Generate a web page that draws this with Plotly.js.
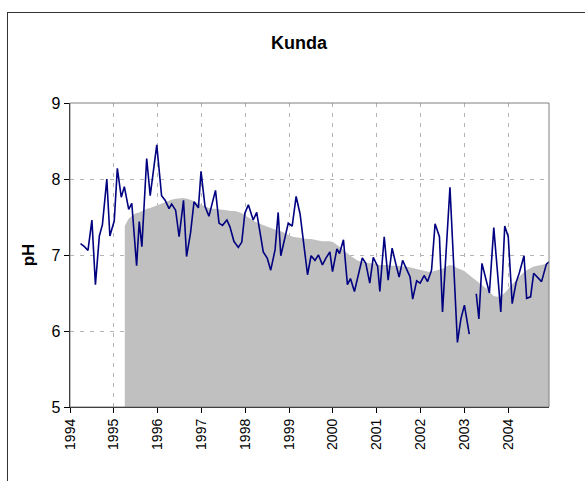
<!DOCTYPE html>
<html>
<head>
<meta charset="utf-8">
<script src="https://cdn.plot.ly/plotly-3.0.1.min.js"></script>
<style>
  html, body { margin: 0; padding: 0; background: #fff; }
  #chart { position: absolute; left: 0; top: 0; width: 585px; height: 481px; }
  #frame { position: absolute; left: 7px; top: 12px; width: 620px; height: 520px;
           border: 1px solid #333; pointer-events: none; box-sizing: border-box; }
</style>
</head>
<body>
<div id="chart"></div>
<div id="frame"></div>
<script>
// ---- data ----
const chartTitle = 'Kunda';
const yTitle = 'pH';
const yearTicks = [1994, 1995, 1996, 1997, 1998, 1999, 2000, 2001, 2002, 2003, 2004];
const yearLabels = ['1994', '1995', '1996', '1997', '1998', '1999', '2000', '2001', '2002', '2003', '2004'];

// measured pH (decimal year, value); null = missing sample
const phYears = [
  1994.24, 1994.33, 1994.41, 1994.50, 1994.58, 1994.67, 1994.74, 1994.84, 1994.91,
  1995.01, 1995.08, 1995.17, 1995.24, 1995.34, 1995.41, 1995.52, 1995.58, 1995.64, 1995.75, 1995.83, 1995.98,
  1996.09, 1996.17, 1996.26, 1996.32, 1996.41, 1996.49, 1996.59, 1996.66, 1996.75, 1996.83, 1996.93, 1996.99,
  1997.08, 1997.17, 1997.32, 1997.40, 1997.48, 1997.58, 1997.65, 1997.74, 1997.84, 1997.92, 1997.99,
  1998.07, 1998.18, 1998.26, 1998.33, 1998.41, 1998.50, 1998.58, 1998.68, 1998.75, 1998.81, 1998.89, 1998.98,
  1999.07, 1999.16, 1999.25, 1999.34, 1999.42, 1999.50, 1999.59, 1999.67, 1999.76, 1999.84, 1999.93, 1999.99,
  2000.09, 2000.15, 2000.24, 2000.33, 2000.40, 2000.49, 2000.58, 2000.67, 2000.75, 2000.84, 2000.92,
  2001.02, 2001.07, 2001.17, 2001.26, 2001.35, 2001.44, 2001.51, 2001.59, 2001.68, 2001.76, 2001.82, 2001.91, 2001.99,
  2002.08, 2002.16, 2002.25, 2002.33, 2002.43, 2002.50, 2002.67, 2002.84, 2002.92,
  2003.00, 2003.11, 2003.19, 2003.27, 2003.33, 2003.40, 2003.57, 2003.67, 2003.83, 2003.92,
  2004.00, 2004.09, 2004.18, 2004.25, 2004.36, 2004.42, 2004.51, 2004.58, 2004.76, 2004.87, 2004.93
];
const phValues = [
  7.15, 7.11, 7.06, 7.46, 6.61, 7.25, 7.40, 8.00, 7.25,
  7.45, 8.14, 7.76, 7.90, 7.60, 7.68, 6.86, 7.44, 7.11, 8.27, 7.78, 8.45,
  7.78, 7.72, 7.61, 7.67, 7.59, 7.24, 7.72, 6.98, 7.29, 7.70, 7.62, 8.10,
  7.64, 7.51, 7.85, 7.42, 7.39, 7.46, 7.37, 7.18, 7.10, 7.17, 7.55,
  7.66, 7.46, 7.56, 7.31, 7.04, 6.96, 6.80, 7.07, 7.56, 6.99, 7.18, 7.42,
  7.38, 7.77, 7.54, 7.07, 6.74, 6.99, 6.93, 7.00, 6.87, 6.96, 7.04, 6.78,
  7.08, 7.02, 7.20, 6.61, 6.69, 6.52, 6.74, 6.96, 6.89, 6.63, 6.97,
  6.85, 6.52, 7.24, 6.67, 7.09, 6.87, 6.71, 6.93, 6.80, 6.71, 6.42, 6.66, 6.63,
  6.73, 6.65, 6.80, 7.41, 7.24, 6.25, 7.89, 5.85, 6.16,
  6.34, 5.96, null, 6.49, 6.16, 6.89, 6.50, 7.36, 6.25, 7.38,
  7.24, 6.36, 6.64, 6.76, 6.99, 6.43, 6.45, 6.76, 6.65, 6.88, 6.91
];

// smoothed pH (grey area), monthly from April 1995
const trendYears = [
  1995.25, 1995.33, 1995.42, 1995.50, 1995.58, 1995.67, 1995.75, 1995.83, 1995.92,
  1996.00, 1996.08, 1996.17, 1996.25, 1996.33, 1996.42, 1996.50, 1996.58, 1996.67, 1996.75, 1996.83, 1996.92,
  1997.00, 1997.08, 1997.17, 1997.25, 1997.33, 1997.42, 1997.50, 1997.58, 1997.67, 1997.75, 1997.83, 1997.92,
  1998.00, 1998.08, 1998.17, 1998.25, 1998.33, 1998.42, 1998.50, 1998.58, 1998.67, 1998.75, 1998.83, 1998.92,
  1999.00, 1999.08, 1999.17, 1999.25, 1999.33, 1999.42, 1999.50, 1999.58, 1999.67, 1999.75, 1999.83, 1999.92,
  2000.00, 2000.08, 2000.17, 2000.25, 2000.33, 2000.42, 2000.50, 2000.58, 2000.67, 2000.75, 2000.83, 2000.92,
  2001.00, 2001.08, 2001.17, 2001.25, 2001.33, 2001.42, 2001.50, 2001.58, 2001.67, 2001.75, 2001.83, 2001.92,
  2002.00, 2002.08, 2002.17, 2002.25, 2002.33, 2002.42, 2002.50, 2002.58, 2002.67, 2002.75, 2002.83, 2002.92,
  2003.00, 2003.08, 2003.17, 2003.25, 2003.33, 2003.42, 2003.50, 2003.58, 2003.67, 2003.75, 2003.83, 2003.92,
  2004.00, 2004.08, 2004.17, 2004.25, 2004.33, 2004.42, 2004.50, 2004.58, 2004.67, 2004.75, 2004.83, 2004.93
];
const trendValues = [
  7.38, 7.47, 7.52, 7.55, 7.56, 7.59, 7.61, 7.62, 7.64,
  7.66, 7.68, 7.70, 7.72, 7.73, 7.74, 7.75, 7.75, 7.74, 7.73, 7.71, 7.68,
  7.66, 7.64, 7.62, 7.61, 7.61, 7.60, 7.59, 7.59, 7.58, 7.58, 7.57, 7.55,
  7.52, 7.49, 7.46, 7.43, 7.41, 7.39, 7.37, 7.35, 7.34, 7.32, 7.31, 7.28,
  7.26, 7.24, 7.23, 7.22, 7.22, 7.21, 7.21, 7.20, 7.19, 7.18, 7.18, 7.18,
  7.17, 7.14, 7.10, 7.06, 7.02, 6.98, 6.95, 6.92, 6.91, 6.90, 6.89, 6.89,
  6.88, 6.87, 6.87, 6.87, 6.86, 6.86, 6.86, 6.85, 6.85, 6.84, 6.83, 6.82,
  6.80, 6.79, 6.78, 6.78, 6.79, 6.80, 6.82, 6.85, 6.87, 6.86, 6.83, 6.81,
  6.79, 6.75, 6.71, 6.67, 6.63, 6.60, 6.56, 6.51, 6.46, 6.45, 6.46, 6.50,
  6.56, 6.61, 6.66, 6.71, 6.76, 6.80, 6.83, 6.85, 6.86, 6.87, 6.88, 6.89
];

const FONT = 'Arial, "Liberation Sans", sans-serif';

const traces = [
  {
    x: trendYears, y: trendValues, type: 'scatter', mode: 'lines',
    fill: 'tozeroy', fillcolor: '#c0c0c0',
    line: { width: 0, color: '#c0c0c0' }, hoverinfo: 'skip', showlegend: false
  },
  {
    x: phYears, y: phValues, type: 'scatter', mode: 'lines',
    connectgaps: false,
    line: { color: '#000080', width: 1.6 }, showlegend: false
  }
];

const layout = {
  width: 585, height: 481,
  margin: { l: 70, r: 36, t: 103, b: 74 },
  paper_bgcolor: 'rgba(0,0,0,0)', plot_bgcolor: '#ffffff',
  font: { family: FONT, color: '#000', size: 13 },
  title: {
    text: '<b>' + chartTitle + '</b>',
    font: { family: FONT, size: 18, color: '#000' },
    x: 0.511, xref: 'container', xanchor: 'center',
    y: 0.911, yref: 'container', yanchor: 'middle'
  },
  xaxis: {
    type: 'linear', range: [1994, 2004.93],
    tickmode: 'array', tickvals: yearTicks, ticktext: yearLabels,
    tickangle: -90, ticks: 'outside', ticklen: 5, tickcolor: '#000',
    tickfont: { family: FONT, size: 14, color: '#000' },
    showline: true, linecolor: '#000', linewidth: 1.2,
    showgrid: true, gridcolor: '#b4b4b4', griddash: '4px,6px', gridwidth: 1,
    zeroline: false, fixedrange: true
  },
  yaxis: {
    range: [5, 9], tickmode: 'array', tickvals: [5, 6, 7, 8, 9],
    ticks: 'outside', ticklen: 5, tickcolor: '#000',
    tickfont: { family: FONT, size: 16, color: '#000' },
    showline: true, linecolor: '#000', linewidth: 1.5,
    showgrid: true, gridcolor: '#b4b4b4', griddash: '4px,6px', gridwidth: 1,
    zeroline: false, fixedrange: true,
    title: { text: '<b>' + yTitle + '</b>', font: { family: FONT, size: 17, color: '#000' }, standoff: 12 }
  },
  shapes: [
    { type: 'rect', xref: 'paper', yref: 'paper', x0: 0, x1: 1, y0: 0, y1: 1,
      line: { color: '#808080', width: 1 }, fillcolor: 'rgba(0,0,0,0)', layer: 'above' }
  ]
};

Plotly.newPlot('chart', traces, layout, { staticPlot: true, displayModeBar: false });
</script>
</body>
</html>
